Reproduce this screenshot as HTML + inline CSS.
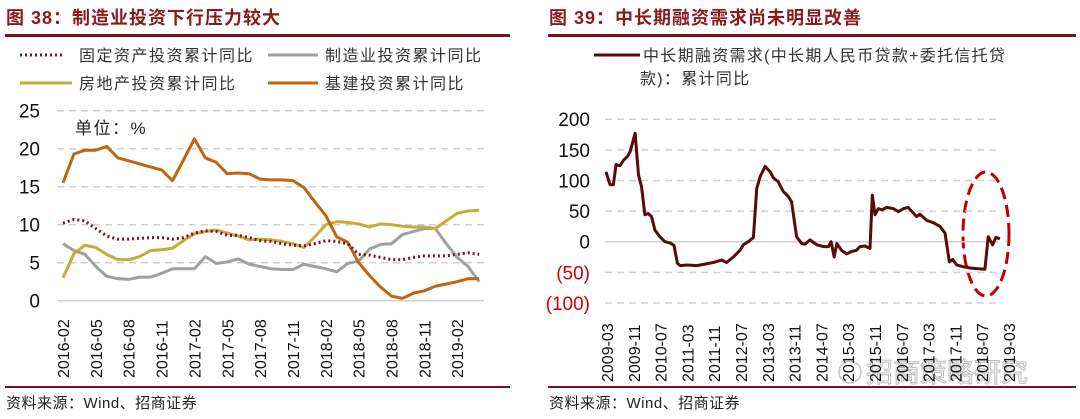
<!DOCTYPE html>
<html><head><meta charset="utf-8">
<style>
html,body{margin:0;padding:0;background:#fff;}
body{width:1080px;height:419px;overflow:hidden;font-family:"Liberation Sans","Noto Sans CJK SC",sans-serif;}
svg{display:block;}
</style></head>
<body>
<svg id="c" width="1080" height="419" viewBox="0 0 1080 419" xmlns="http://www.w3.org/2000/svg">
<g font-family="'Liberation Sans','Noto Sans CJK SC',sans-serif">
<text x="6" y="24" font-size="18" font-weight="bold" fill="#8b1a1a" letter-spacing="1">图 38：制造业投资下行压力较大</text>
<rect x="5" y="34" width="505" height="3" fill="#7a1414"/>
<text x="549" y="24" font-size="18" font-weight="bold" fill="#8b1a1a" letter-spacing="1">图 39：中长期融资需求尚未明显改善</text>
<rect x="548" y="34" width="528" height="3" fill="#7a1414"/>
<rect x="5" y="386" width="505" height="2" fill="#7a1414"/>
<rect x="548" y="386" width="528" height="2" fill="#7a1414"/>
<text x="6" y="408" font-size="15" fill="#222" letter-spacing="0.5">资料来源：Wind、招商证券</text>
<text x="549" y="408" font-size="15" fill="#222" letter-spacing="0.5">资料来源：Wind、招商证券</text>

<g font-size="16" fill="#333" letter-spacing="1.5">
<line x1="20" y1="55" x2="63" y2="55" stroke="#7b1020" stroke-width="3" stroke-dasharray="2 3"/>
<text x="79" y="61">固定资产投资累计同比</text>
<line x1="268" y1="55" x2="318" y2="55" stroke="#a0a0a0" stroke-width="3"/>
<text x="325" y="61">制造业投资累计同比</text>
<line x1="20" y1="83" x2="72" y2="83" stroke="#c9a93a" stroke-width="3"/>
<text x="79" y="89">房地产投资累计同比</text>
<line x1="268" y1="83" x2="318" y2="83" stroke="#c0650f" stroke-width="3"/>
<text x="325" y="89">基建投资累计同比</text>
</g>
<text x="75" y="134" font-size="17" fill="#222" letter-spacing="1.5">单位：%</text>

<g font-size="16" fill="#333" letter-spacing="1.3">
<line x1="594" y1="55" x2="640" y2="55" stroke="#5a0a0a" stroke-width="3"/>
<text x="643" y="61">中长期融资需求(中长期人民币贷款+委托信托贷</text>
<text x="640" y="84">款)：累计同比</text>
</g>

<g opacity="0.55">
<circle cx="850" cy="372" r="11" fill="none" stroke="#999" stroke-width="1.5"/>
<text x="866" y="382" font-size="27" fill="#fff" stroke="#888" stroke-width="1">招商策略研究</text>
</g>
<ellipse cx="986" cy="234" rx="23" ry="62" fill="none" stroke="#c00000" stroke-width="3" stroke-dasharray="12 6"/>
</g>
</svg>
<script>
// ---- Left chart data ----
const leftTicks = ["2016-02","2016-05","2016-08","2016-11","2017-02","2017-05","2017-08","2017-11","2018-02","2018-05","2018-08","2018-11","2019-02"];
const leftYTicks = [0,5,10,15,20,25];
const fixedAsset = [10.2,10.7,10.5,9.5,8.5,8.1,8.1,8.2,8.3,8.3,8.1,8.3,8.9,9.2,9.1,8.6,8.6,8.3,7.9,7.8,7.5,7.3,7.2,7.5,7.9,7.8,7.5,6.1,6.0,5.7,5.4,5.4,5.7,5.9,5.9,5.9,6.1,6.3,6.1];
const manufacturing = [7.5,6.6,6.1,4.5,3.2,2.9,2.8,3.1,3.1,3.6,4.2,4.2,4.2,5.8,4.9,5.1,5.5,4.8,4.5,4.2,4.1,4.1,4.8,4.5,4.2,3.8,4.9,5.2,6.8,7.4,7.5,8.7,9.1,9.5,9.5,7.5,5.7,4.5,2.5];
const realEstate = [3.0,6.2,7.3,7.0,6.1,5.4,5.4,5.8,6.6,6.7,6.9,7.9,8.8,9.1,9.3,8.9,8.5,8.0,8.1,8.0,7.8,7.5,7.0,8.4,10.0,10.4,10.3,10.1,9.7,10.1,10.0,9.8,9.7,9.7,9.5,10.5,11.5,11.8,11.9];
const infrastructure = [15.5,19.3,19.8,19.8,20.3,18.8,18.4,18.0,17.6,17.2,15.8,18.5,21.3,18.8,18.2,16.7,16.8,16.7,16.0,15.9,15.9,15.8,14.9,13.0,11.2,8.4,7.7,5.0,3.3,1.8,0.6,0.3,1.0,1.3,1.9,2.2,2.5,2.9,2.9];
// ---- Right chart data ----
const rightTicks = ["2009-03","2009-11","2010-07","2011-03","2011-11","2012-07","2013-03","2013-11","2014-07","2015-03","2015-11","2016-07","2017-03","2017-11","2018-07","2019-03"];
const rightYTicks = [200,150,100,50,0,-50,-100];
const finMonths = [0,1.2,2.2,3,4.2,5.2,6.4,7.2,8.7,9.7,10.6,11.6,12.6,13.6,14.6,16.1,17.6,19.1,20.3,21.3,22.1,24.1,27.1,29.1,32,34.5,36,38,40,41,42.5,44,45,46,47.5,49,50,51.4,52.9,54.4,55.4,56.9,58.4,59.4,60.9,62.9,64.9,66.4,67.2,68.1,68.9,70.3,71.8,73.3,74.8,75.8,77.3,78.8,79.5,80.3,81.3,82.3,83.8,85.8,87.3,88.8,90.2,91.7,92.7,93.7,95.7,97.7,99.7,101.2,102.5,103.5,104.7,106.7,108.7,110.6,113.1,114.1,115.4,116.4,117.6];
const finValues = [114,93,93,126,124,133,139,147,177,109,90,44,46,41,19,8,0,-2,-6,-35,-39,-38,-39,-37,-34,-30,-34,-25,-14,-5,0,7,87,106,123,114,104,98,82,74,65,8,-3,-4,3,-5,-8,-8,0,-25,-3,-14,-20,-16,-14,-8,-7,-11,76,44,54,52,56,54,49,54,56,47,41,45,35,31,25,14,-33,-29,-38,-41,-43,-44,-45,8,-5,7,5];

const NS="http://www.w3.org/2000/svg";
const svg=document.getElementById('c');
function mk(tag,attrs,parent){const e=document.createElementNS(NS,tag);for(const k in attrs)e.setAttribute(k,attrs[k]);(parent||svg).appendChild(e);return e;}

// Left axes
const lx=i=>63+i*10.95;
const ly=v=>300.7-v*7.6;
const gL=mk('g',{});


leftYTicks.forEach(v=>{
  const ln=mk('line',{x1:57,x2:484,y1:ly(v),y2:ly(v),stroke:'#d0d0d0','stroke-width':1.5,'stroke-dasharray':v===0?'':'7 5'},gL);
  
  
  const t=mk('text',{x:40,y:ly(v)+7,'text-anchor':'end','font-size':19,fill:'#111'},gL);
  t.textContent=v;
  
  
});
leftTicks.forEach((s,k)=>{
  const x=lx(k*3)+6;
  const t=mk('text',{x:0,y:0,transform:`translate(${x},378) rotate(-90)`,'font-size':16,fill:'#111'},gL);
  t.textContent=s;
  
  
});
function lineL(arr,color,name,dash){
  const p=mk('polyline',{points:arr.map((v,i)=>lx(i)+','+ly(v)).join(' '),fill:'none',stroke:color,'stroke-width':3,'stroke-linejoin':'round','stroke-dasharray':dash||''},gL);
  
  
}
lineL(manufacturing,'#a0a0a0','manufacturing-line');
lineL(realEstate,'#c9a93a','real-estate-line');
lineL(infrastructure,'#c0650f','infrastructure-line');
lineL(fixedAsset,'#7b1020','fixed-asset-line','2 3');

// Right axes
const rx=m=>606+m*3.35;
const ry=v=>241.7-v*0.6125;
const gR=mk('g',{});


rightYTicks.forEach(v=>{
  const ln=mk('line',{x1:605,x2:998,y1:ry(v),y2:ry(v),stroke:'#d0d0d0','stroke-width':1.5,'stroke-dasharray':v===0?'':'7 5'},gR);
  
  
  const t=mk('text',{x:590,y:ry(v)+7,'text-anchor':'end','font-size':19,fill:v<0?'#d00000':'#111'},gR);
  t.textContent=v<0?'('+(-v)+')':v;
  
  
});
rightTicks.forEach((s,k)=>{
  const x=rx(k*8)+7;
  const t=mk('text',{x:0,y:0,transform:`translate(${x},382) rotate(-90)`,'font-size':16,fill:'#111'},gR);
  t.textContent=s;
  
  
});
const pr=mk('polyline',{points:finMonths.map((m,i)=>rx(m)+','+ry(finValues[i])).join(' '),fill:'none',stroke:'#5a0a0a','stroke-width':3,'stroke-linejoin':'round'},gR);


</script>
</body></html>
